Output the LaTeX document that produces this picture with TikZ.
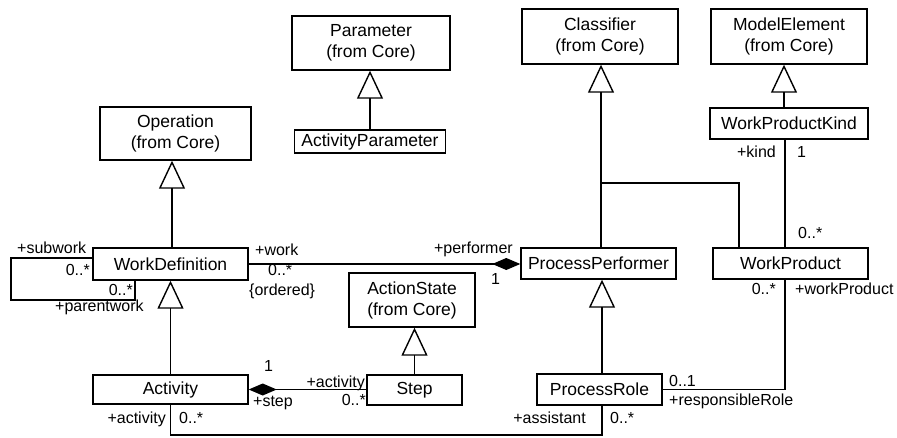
\documentclass[tikz,border=0pt]{standalone}
\usepackage{fontspec}
\setmainfont{Liberation Sans}
\usetikzlibrary{arrows.meta}
\begin{document}
\begin{tikzpicture}[x=1pt,y=-1pt,
  cls/.style={draw,line width=1.4pt,inner sep=0pt,align=center,font=\fontsize{17.5}{21}\selectfont},
  lbl/.style={inner sep=0pt,font=\fontsize{16}{18}\selectfont},
  gen/.style={line width=1.4pt,-{Triangle[open,length=28pt,width=26pt,line width=1.4pt]}},
  assoc/.style={line width=1.4pt},
  compend/.style={line width=1.4pt,-{Diamond[length=28pt,width=12pt]}},
  compstart/.style={line width=1.4pt,{Diamond[length=28pt,width=12pt]}-}]
\useasboundingbox (0,0) rectangle (897,437);

% classes
\node[cls,minimum width=151pt,minimum height=53pt] (op) at (175.5,133.5) {Operation\\(from Core)};
\node[cls,minimum width=158pt,minimum height=54pt] (par) at (371,43) {Parameter\\(from Core)};
\node[cls,minimum width=151pt,minimum height=23pt] (ap) at (370,141.5) {ActivityParameter};
\node[cls,minimum width=156pt,minimum height=55pt] (cl) at (600,36.5) {Classifier\\(from Core)};
\node[cls,minimum width=156pt,minimum height=55pt] (me) at (789,36.5) {ModelElement\\(from Core)};
\node[cls,minimum width=158pt,minimum height=31pt] (wpk) at (789,123.5) {WorkProductKind};
\node[cls,minimum width=155pt,minimum height=32pt] (wd) at (170.5,264) {WorkDefinition};
\node[cls,minimum width=155pt,minimum height=31pt] (pp) at (598.5,263.5) {ProcessPerformer};
\node[cls,minimum width=155pt,minimum height=31pt] (wp) at (790.5,263.5) {WorkProduct};
\node[cls,minimum width=126pt,minimum height=54pt] (as) at (412,300) {ActionState\\(from Core)};
\node[cls,minimum width=95pt,minimum height=30pt] (st) at (414.5,390) {Step};
\node[cls,minimum width=155pt,minimum height=29pt] (act) at (170.5,389.5) {Activity};
\node[cls,minimum width=125pt,minimum height=31pt] (pr) at (599.5,389.5) {ProcessRole};

% helper coordinates
\coordinate (jn) at (601,183);
\coordinate (gx) at (739,200);
\coordinate (kx) at (785,200);
\coordinate (l1) at (11,258);
\coordinate (l2) at (11,300);
\coordinate (l3) at (135,300);
\coordinate (bl) at (0,435);

% generalizations
\draw[gen] ([xshift=1.5pt]wd.north) -- ([xshift=1.5pt]wd.north |- op.south);
\draw[gen] (ap.north) -- (ap.north |- par.south);
\draw[gen] ([xshift=-5pt]wpk.north) -- ([xshift=-5pt]wpk.north |- me.south);
\draw[gen] (pp.north -| jn) -- (jn |- cl.south);
\draw[assoc] (wp.north -| gx) |- (jn);
\draw[gen] ([xshift=2.5pt]pr.north) -- ([xshift=2.5pt]pr.north |- pp.south);
\draw[gen] (st.north) -- (st.north |- as.south);
\draw[gen] (act.north) -- (act.north |- wd.south);

% associations
\draw[compend] (wd.east) -- (wd.east -| pp.west);
\draw[compstart] (act.east) -- (act.east -| st.west);
\draw[assoc] (wd.west |- l1) -- (l1) -- (l2) -- (l3) -- (l3 |- wd.south);
\draw[assoc] (wpk.south -| kx) -- (wp.north -| kx);
\draw[assoc] (wp.south -| kx) |- (pr.east);
\draw[assoc] (act.south) -- (act.south |- bl) -| ([xshift=2.5pt]pr.south);

% labels
\node[lbl,anchor=base west] (t1) at (17,253) {+subwork};
\node[lbl,anchor=base east] (t2) at (90,275) {0..*};
\node[lbl,anchor=base east] (t3) at (133,295) {0..*};
\node[lbl,anchor=base west] (t4) at (55,311) {+parentwork};
\node[lbl,anchor=base west] (t5) at (255,255) {+work};
\node[lbl,anchor=base west] (t6) at (268,275) {0..*};
\node[lbl,anchor=base west] (t7) at (249,295) {\{ordered\}};
\node[lbl,anchor=base east] (t8) at (513,253) {+performer};
\node[lbl,anchor=base west] (t9) at (491,284) {1};
\node[lbl,anchor=base west] (t10) at (264,371) {1};
\node[lbl,anchor=base west] (t11) at (253,406) {+step};
\node[lbl,anchor=base east] (t12) at (365,387) {+activity};
\node[lbl,anchor=base east] (t13) at (366,405) {0..*};
\node[lbl,anchor=base east] (t14) at (166,423) {+activity};
\node[lbl,anchor=base west] (t15) at (179,423) {0..*};
\node[lbl,anchor=base east] (t16) at (586,423) {+assistant};
\node[lbl,anchor=base west] (t17) at (610,423) {0..*};
\node[lbl,anchor=base west] (t18) at (669,386) {0..1};
\node[lbl,anchor=base west] (t19) at (669,405) {+responsibleRole};
\node[lbl,anchor=base east] (t20) at (776,294) {0..*};
\node[lbl,anchor=base west] (t21) at (795,294) {+workProduct};
\node[lbl,anchor=base west] (t22) at (798,238) {0..*};
\node[lbl,anchor=base east] (t23) at (776,157) {+kind};
\node[lbl,anchor=base west] (t24) at (797,157) {1};
\end{tikzpicture}
\end{document}
